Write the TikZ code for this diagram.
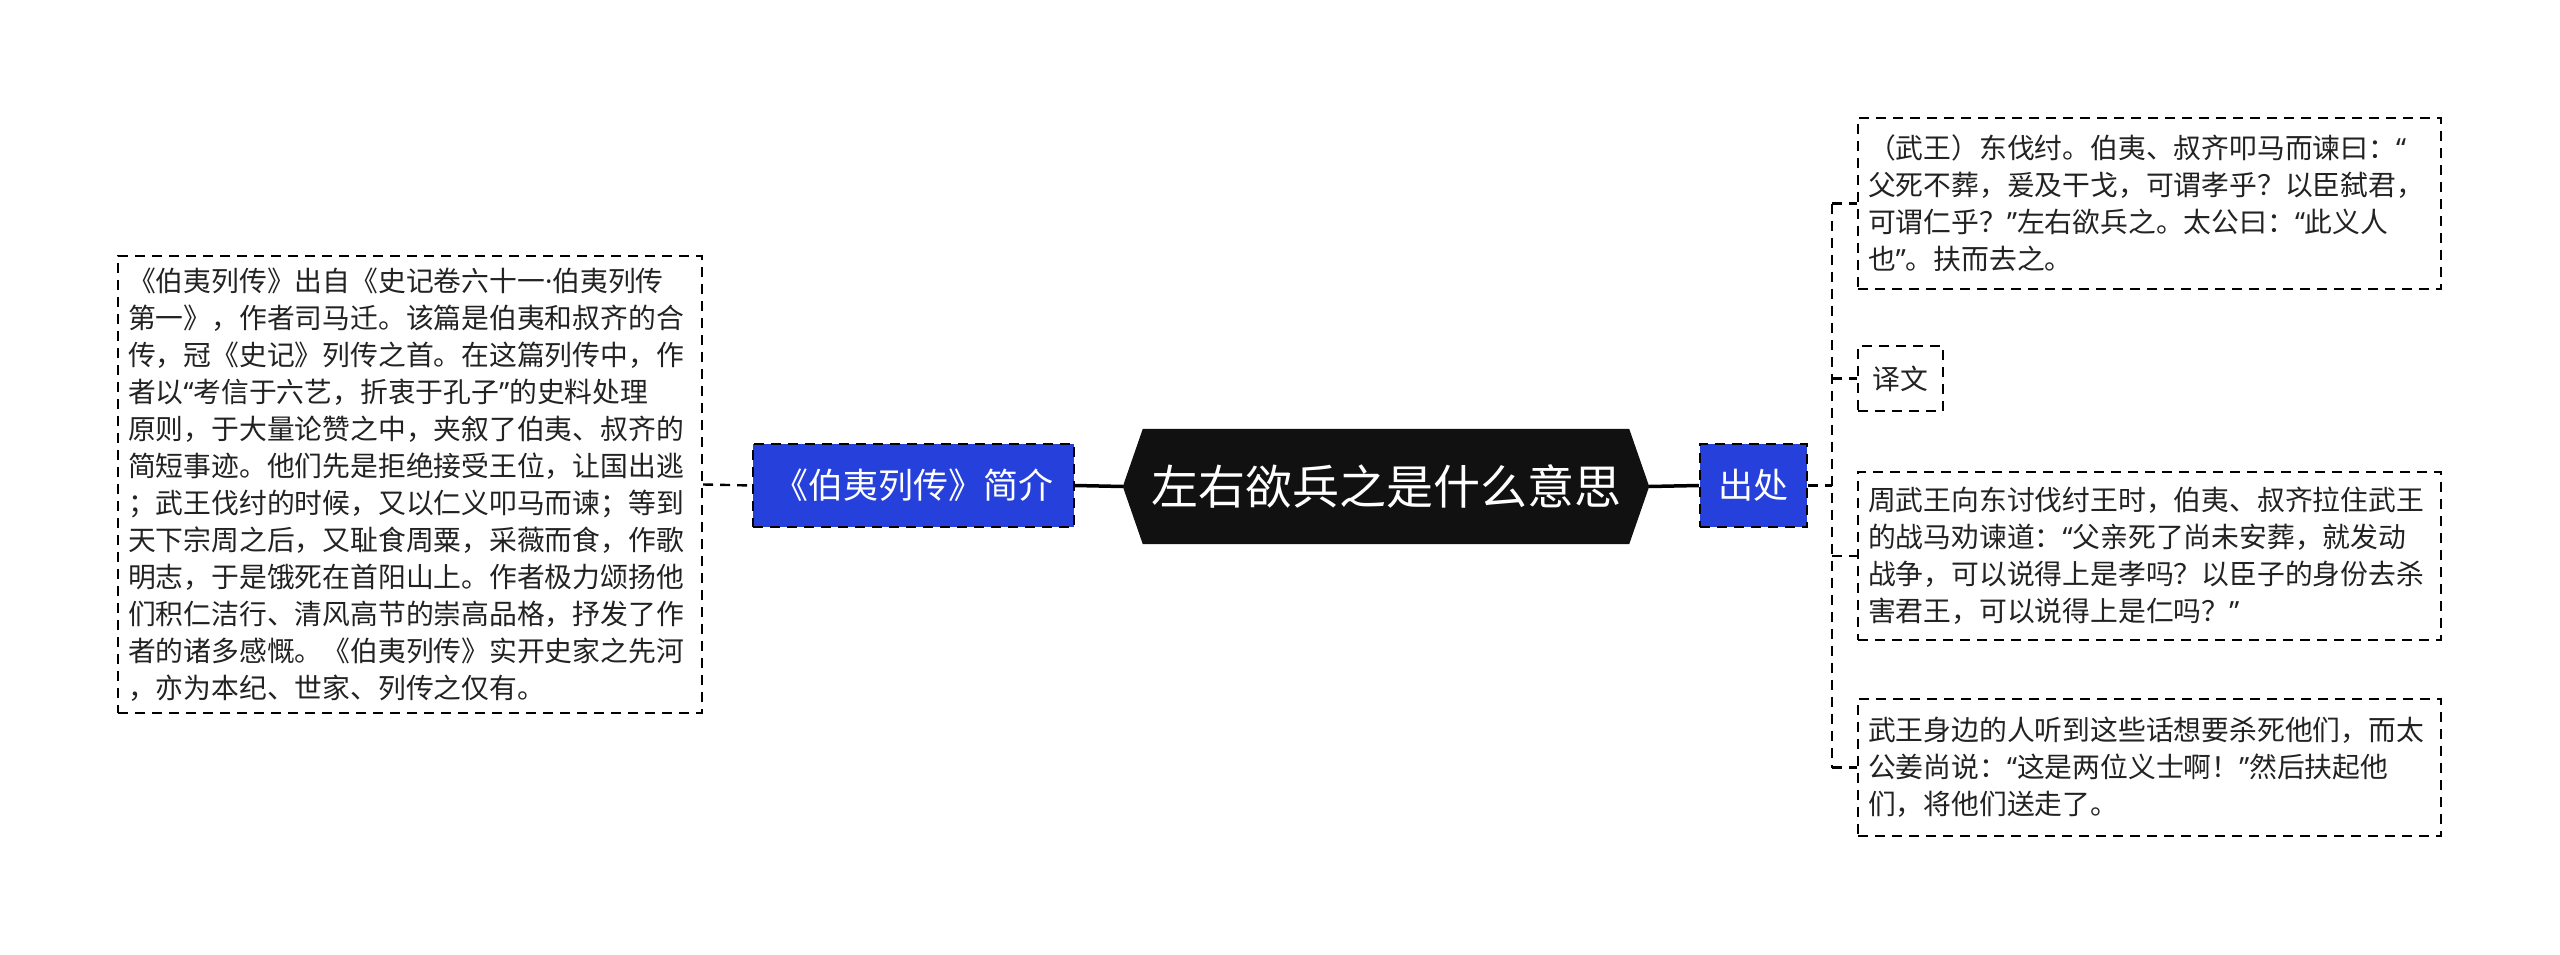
\documentclass[tikz,border=0pt]{standalone}
\usepackage{fontspec}
\newfontfamily\cjk{Noto Sans CJK SC}
\newfontfamily\latf{Noto Sans}
\newcommand\myoq{{\latf “}}
\newcommand\mycq{{\latf ”}}
\newcommand\mymd{{\latf ·}}
\usetikzlibrary{backgrounds,calc}
\definecolor{nodeblue}{RGB}{38,64,219}
\definecolor{hexblack}{RGB}{17,17,17}
\definecolor{txtcol}{RGB}{34,34,34}
\begin{document}
\begin{tikzpicture}[x=1pt,y=-1pt,
  dashline/.style={line width=2.4pt, dash pattern=on 10pt off 7pt, draw=black},
  solidline/.style={line width=3.5pt, draw=black},
  txtbox/.style={dashline, font=\cjk\fontsize{27.8}{37}\selectfont, align=left,
    inner xsep=10pt, inner ysep=0pt, text=txtcol},
  bluebox/.style={dashline, fill=nodeblue, text=white, inner sep=0pt,
    font=\cjk\fontsize{35}{40}\selectfont},
  centerbox/.style={inner sep=0pt, text=white, font=\cjk\fontsize{47}{52}\selectfont}
]
\useasboundingbox (0,0) rectangle (2560,955);

% center
\node[centerbox, minimum width=486pt, minimum height=115pt] (c) at (1386,486.5) {左右欲兵之是什么意思};
\coordinate (cl) at ($(c.west)+(-20,0)$);
\coordinate (cr) at ($(c.east)+(20,0)$);
\begin{scope}[on background layer]
  \fill[hexblack] (cl) -- (c.north west) -- (c.north east) -- (cr) -- (c.south east) -- (c.south west) -- cycle;
\end{scope}

% level-1 nodes
\node[bluebox, minimum width=321pt, minimum height=83pt] (bl) at (913.5,485.5) {《伯夷列传》简介};
\node[bluebox, minimum width=107pt, minimum height=83pt] (br) at (1753.5,485.5) {出处};

% left text
\node[txtbox, text width=564pt, minimum height=457pt] (intro) at (410,484.5) {%
《伯夷列传》出自《史记卷六十一\mymd 伯夷列传\\
第一》，作者司马迁。该篇是伯夷和叔齐的合\\
传，冠《史记》列传之首。在这篇列传中，作\\
者以\myoq 考信于六艺，折衷于孔子\mycq 的史料处理\\
原则，于大量论赞之中，夹叙了伯夷、叔齐的\\
简短事迹。他们先是拒绝接受王位，让国出逃\\
；武王伐纣的时候，又以仁义叩马而谏；等到\\
天下宗周之后，又耻食周粟，采薇而食，作歌\\
明志，于是饿死在首阳山上。作者极力颂扬他\\
们积仁洁行、清风高节的崇高品格，抒发了作\\
者的诸多感慨。《伯夷列传》实开史家之先河\\
，亦为本纪、世家、列传之仅有。};

% right texts
\node[txtbox, text width=563pt, minimum height=171pt] (b1) at (2149.5,203.5) {%
（武王）东伐纣。伯夷、叔齐叩马而谏曰：\myoq\\
父死不葬，爰及干戈，可谓孝乎？以臣弑君，\\
可谓仁乎？\mycq 左右欲兵之。太公曰：\myoq 此义人\\
也\mycq 。扶而去之。};
\node[txtbox, inner xsep=0pt, minimum width=85pt, minimum height=65pt] (b2) at (1900.5,378.5) {译文};
\node[txtbox, text width=563pt, minimum height=168pt] (b3) at (2149.5,556) {%
周武王向东讨伐纣王时，伯夷、叔齐拉住武王\\
的战马劝谏道：\myoq 父亲死了尚未安葬，就发动\\
战争，可以说得上是孝吗？以臣子的身份去杀\\
害君王，可以说得上是仁吗？\mycq};
\node[txtbox, text width=563pt, minimum height=137pt] (b4) at (2149.5,767.5) {%
武王身边的人听到这些话想要杀死他们，而太\\
公姜尚说：\myoq 这是两位义士啊！\mycq 然后扶起他\\
们，将他们送走了。};

% connectors
\draw[solidline] (bl.east) -- (cl);
\draw[solidline] (cr) -- (br.west);
\draw[dashline] (intro.east) -- (bl.west);
\coordinate (jx) at (1832,485.5);
\draw[dashline] (br.east) -- (jx);
\draw[dashline] (b1.west -| jx) -- (b4.west -| jx);
\foreach \b in {b1,b2,b3,b4} \draw[dashline] (\b.west -| jx) -- (\b.west);
\end{tikzpicture}
\end{document}
